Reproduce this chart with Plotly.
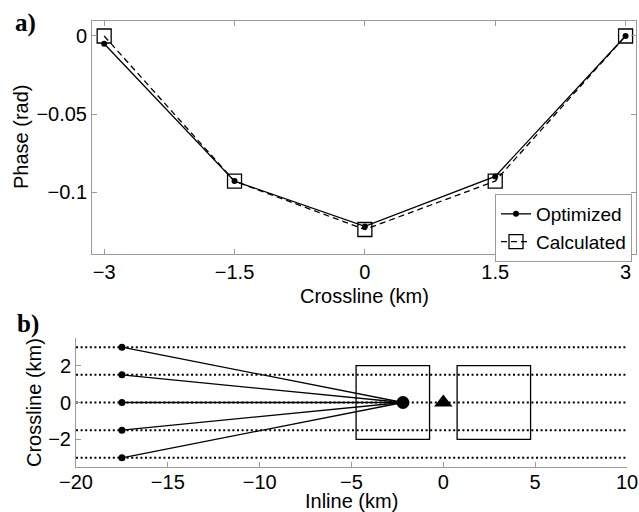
import plotly.graph_objects as go

# ---------------- data: panel a ----------------
crossline_km = [-3, -1.5, 0, 1.5, 3]
phase_optimized = [-0.005, -0.093, -0.122, -0.090, 0.0]
phase_calculated = [0.0, -0.093, -0.124, -0.093, 0.0]
a_xticks = [-3, -1.5, 0, 1.5, 3]
a_xticklabels = ["−3", "−1.5", "0", "1.5", "3"]
a_yticks = [0, -0.05, -0.1]
a_yticklabels = ["0", "−0.05", "−0.1"]

# ---------------- data: panel b ----------------
line_levels = [3, 1.5, 0, -1.5, -3]          # dotted crossline lines
line_extent = [-20, 10]                       # inline extent of dotted lines
source_x = [-17.5, -17.5, -17.5, -17.5, -17.5]
source_y = [3, 1.5, 0, -1.5, -3]
receiver_x = [-2.2]
receiver_y = [0]
triangle_x = [0]
triangle_y = [0]
box_x0 = [-4.75, 0.75]
box_x1 = [-0.75, 4.75]
box_y0 = [-2, -2]
box_y1 = [2, 2]
b_xticks = [-20, -15, -10, -5, 0, 5, 10]
b_xticklabels = ["−20", "−15", "−10", "−5", "0", "5", "10"]
b_yticks = [2, 0, -2]
b_yticklabels = ["2", "0", "−2"]

FONT = "Liberation Sans"
AX = "#9a9a9a"

fig = go.Figure()

# panel a
fig.add_trace(go.Scatter(
    x=crossline_km, y=phase_calculated, name="Calculated",
    mode="lines+markers", xaxis="x", yaxis="y",
    line=dict(color="black", width=1.3, dash="6px,4px"),
    marker=dict(symbol="square-open", size=14, color="black", line=dict(width=1.3)),
    cliponaxis=False,
))
fig.add_trace(go.Scatter(
    x=crossline_km, y=phase_optimized, name="Optimized",
    mode="lines+markers", xaxis="x", yaxis="y",
    line=dict(color="black", width=1.3),
    marker=dict(symbol="circle", size=6, color="black"),
    cliponaxis=False,
))

# panel b: dotted lines
dx, dy = [], []
for lv in line_levels:
    dx += [line_extent[0], line_extent[1], None]
    dy += [lv, lv, None]
fig.add_trace(go.Scatter(
    x=dx, y=dy, mode="lines", xaxis="x2", yaxis="y2", showlegend=False,
    line=dict(color="black", width=2, dash="2px,2.6px"), hoverinfo="skip",
))
# rays
rx, ry = [], []
for sx, sy in zip(source_x, source_y):
    rx += [sx, receiver_x[0], None]
    ry += [sy, receiver_y[0], None]
fig.add_trace(go.Scatter(
    x=rx, y=ry, mode="lines", xaxis="x2", yaxis="y2", showlegend=False,
    line=dict(color="black", width=1.3),
))
fig.add_trace(go.Scatter(
    x=source_x, y=source_y, mode="markers", xaxis="x2", yaxis="y2", showlegend=False,
    marker=dict(symbol="circle", size=7, color="black"), cliponaxis=False,
))
fig.add_trace(go.Scatter(
    x=receiver_x, y=receiver_y, mode="markers", xaxis="x2", yaxis="y2", showlegend=False,
    marker=dict(symbol="circle", size=13, color="black"),
))
fig.add_trace(go.Scatter(
    x=triangle_x, y=triangle_y, mode="markers", xaxis="x2", yaxis="y2", showlegend=False,
    marker=dict(symbol="triangle-up", size=16, color="black"),
))

for x0, x1, y0, y1 in zip(box_x0, box_x1, box_y0, box_y1):
    fig.add_shape(type="rect", xref="x2", yref="y2", x0=x0, x1=x1, y0=y0, y1=y1,
                  line=dict(color="black", width=1.3))

common = dict(showgrid=False, zeroline=False, showline=True, linecolor=AX, linewidth=1,
              ticks="inside", ticklen=5, tickcolor=AX, tickwidth=1, automargin=False,
              tickfont=dict(family=FONT, size=20, color="black"))

fig.update_layout(
    template="none",
    width=639, height=512,
    margin=dict(l=0, r=0, t=0, b=0, autoexpand=False),
    paper_bgcolor="white", plot_bgcolor="white",
    font=dict(family=FONT, size=20, color="black"),
    xaxis=dict(domain=[92/639, 636/639], range=[-3.14, 3.12], anchor="y",
               tickvals=a_xticks, ticktext=a_xticklabels, mirror="ticks", **common),
    yaxis=dict(domain=[1-254/512, 1-21/512], range=[-0.1397, 0.0096], anchor="x",
               tickvals=a_yticks, ticktext=a_yticklabels, mirror="ticks", **common),
    xaxis2=dict(domain=[76/639, 627/639], range=[-20, 10], anchor="y2",
                tickvals=b_xticks, ticktext=b_xticklabels, ticklabelstandoff=-3, **common),
    yaxis2=dict(domain=[1-467/512, 1-338/512], range=[-3.5, 3.5], anchor="x2",
                tickvals=b_yticks, ticktext=b_yticklabels, **common),
    legend=dict(x=632/639, y=1-194/512, xanchor="right", yanchor="top",
                bgcolor="white", bordercolor=AX, borderwidth=1,
                font=dict(family=FONT, size=19, color="black"),
                traceorder="reversed", tracegroupgap=0, itemwidth=30),
    showlegend=True,
    annotations=[
        dict(text="Crossline (km)", x=364/639, y=1-296/512, xref="paper", yref="paper",
             showarrow=False, xanchor="center", yanchor="middle"),
        dict(text="Phase (rad)", x=21/639, y=1-137/512, xref="paper", yref="paper",
             showarrow=False, xanchor="center", yanchor="middle", textangle=-90),
        dict(text="Inline (km)", x=351/639, y=1-501/512, xref="paper", yref="paper",
             showarrow=False, xanchor="center", yanchor="middle"),
        dict(text="Crossline (km)", x=34/639, y=1-403/512, xref="paper", yref="paper",
             showarrow=False, xanchor="center", yanchor="middle", textangle=-90),
        dict(text="<b>a)</b>", x=13/639, y=1-23/512, xref="paper", yref="paper",
             showarrow=False, xanchor="left", yanchor="middle",
             font=dict(family="Liberation Serif", size=25, color="black")),
        dict(text="<b>b)</b>", x=15/639, y=1-324/512, xref="paper", yref="paper",
             showarrow=False, xanchor="left", yanchor="middle",
             font=dict(family="Liberation Serif", size=25, color="black")),
    ],
)

fig.write_html("out.html", config={"displayModeBar": False},
               post_script="document.body.style.margin='0px';document.body.style.overflow='hidden';")
